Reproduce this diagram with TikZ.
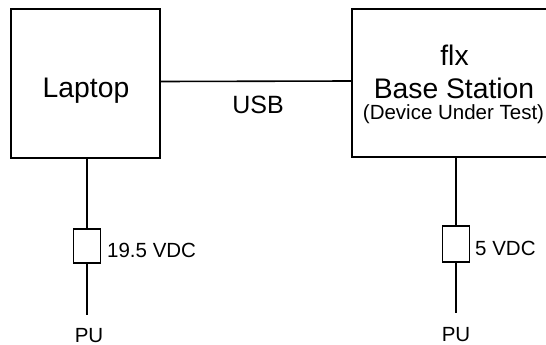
\documentclass[tikz,border=0pt]{standalone}
\usepackage{fontspec}
\setmainfont{Liberation Sans}
\begin{document}
\begin{tikzpicture}[x=1pt,y=-1pt,
  box/.style={draw,line width=1.3pt,rectangle,inner sep=0pt},
  wire/.style={line width=1.6pt},
  fuse/.style={draw,line width=1.3pt,rectangle,inner sep=0pt,minimum width=27pt,minimum height=34pt},
  big/.style={font=\fontsize{28.3}{31}\selectfont,inner sep=0pt},
  mid/.style={font=\fontsize{25}{28}\selectfont,inner sep=0pt},
  small/.style={font=\fontsize{20.5}{23}\selectfont,inner sep=0pt}]
\useasboundingbox (0,0) rectangle (546,345);
\clip (0,0) rectangle (546,345);
\node[box,minimum width=149pt,minimum height=149pt] (laptop) at (85.5,83.5) {};
\node[big,anchor=base] (laptoptxt) at (86,97) {Laptop};
\node[box,minimum width=204pt,minimum height=148pt] (base) at (454,83) {};
\node[big,anchor=base] (flx) at (454.5,66) {flx};
\node[big,anchor=base] (bs) at (454,99) {Base Station};
\node[small,anchor=base] (dut) at (453.5,119) {(Device Under Test)};
\draw[wire] ([yshift=2pt]laptop.east) -- ([yshift=2pt]base.west);
\node[mid,anchor=base] (usb) at (258,113) {USB};
% left supply
\node[fuse] (f1) at (87,246) {};
\node[small,anchor=base west] (v1) at (107,257) {19.5 VDC};
\coordinate (e1) at (87,315);
\draw[wire] (f1.north |- laptop.south) -- (f1.north);
\draw[wire] (f1.south) -- (e1);
\node[small,anchor=base] (pu1) at (89,342) {PU};
% right supply
\node[fuse,minimum height=36pt] (f2) at (456,244) {};
\node[small,anchor=base west] (v2) at (475,255) {5 VDC};
\coordinate (e2) at (456,313);
\draw[wire] (f2.north |- base.south) -- (f2.north);
\draw[wire] (f2.south) -- (e2);
\node[small,anchor=base] (pu2) at (456,341) {PU};
\end{tikzpicture}
\end{document}
